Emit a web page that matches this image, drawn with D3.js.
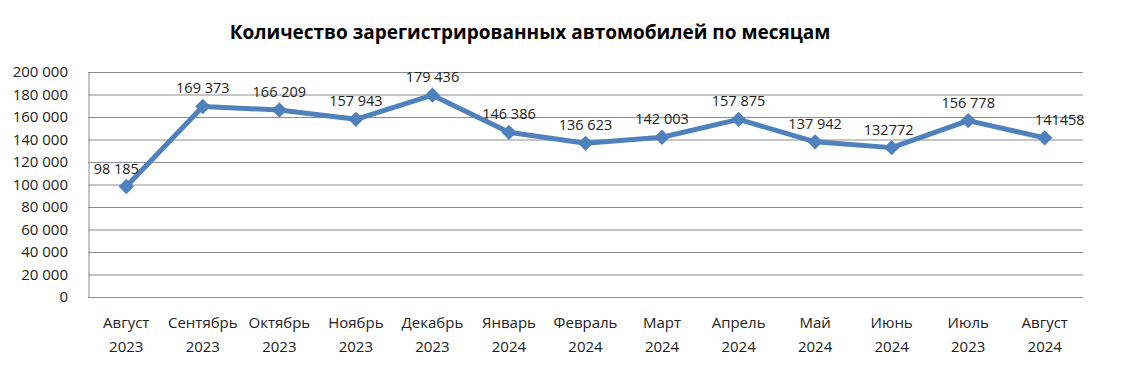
<!DOCTYPE html>
<html>
<head>
<meta charset="utf-8">
<script src="https://cdn.jsdelivr.net/npm/d3@7"></script>
<style>
  body { margin: 0; background: #fff; }
  text { font-family: "Open Sans", sans-serif; fill: #222; }
</style>
</head>
<body>
<div id="chart"></div>
<script>
const months = ["Август", "Сентябрь", "Октябрь", "Ноябрь", "Декабрь", "Январь", "Февраль",
  "Март", "Апрель", "Май", "Июнь", "Июль", "Август"];
const years = ["2023", "2023", "2023", "2023", "2023", "2024", "2024",
  "2024", "2024", "2024", "2024", "2023", "2024"];
const cars = [98185, 169373, 166209, 157943, 179436, 146386, 136623,
  142003, 157875, 137942, 132772, 156778, 141458];
const valueLabels = ["98 185", "169 373", "166 209", "157 943", "179 436", "146 386", "136 623",
  "142 003", "157 875", "137 942", "132772", "156 778", "141458"];
const yTicks = [0, 20000, 40000, 60000, 80000, 100000, 120000, 140000, 160000, 180000, 200000];

const svgWidth = 1121;
const svgHeight = 376;
const margin = { top: 72, right: 38, bottom: 79, left: 88 };
const width = svgWidth - margin.left - margin.right;
const height = svgHeight - margin.top - margin.bottom;

const svg = d3.select("#chart")
  .append("svg")
  .attr("width", svgWidth)
  .attr("height", svgHeight);

svg.append("text")
  .attr("x", 530)
  .attr("y", 39)
  .attr("text-anchor", "middle")
  .style("font-size", "19px")
  .style("font-weight", "bold")
  .style("fill", "#000")
  .text("Количество зарегистрированных автомобилей по месяцам");

const chartGroup = svg.append("g")
  .attr("transform", `translate(${margin.left}, ${margin.top})`);

const idx = d3.range(cars.length);
const xScale = d3.scaleBand()
  .domain(idx)
  .range([0, width]);

const yScale = d3.scaleLinear()
  .domain([0, 200000])
  .range([height, 0]);

const fmt = d => d3.format(",")(d).replace(/,/g, " ");

// gridlines
chartGroup.append("g")
  .selectAll("line")
  .data(yTicks)
  .enter()
  .append("line")
  .attr("x1", 0)
  .attr("x2", width)
  .attr("y1", d => yScale(d) + 0.5)
  .attr("y2", d => yScale(d) + 0.5)
  .attr("stroke", "#8c8c8c")
  .attr("stroke-width", 1);

// y axis
const leftAxis = d3.axisLeft(yScale)
  .tickValues(yTicks)
  .tickSize(0)
  .tickPadding(20)
  .tickFormat(fmt);

const yAxis = chartGroup.append("g")
  .call(leftAxis);
yAxis.select(".domain")
  .attr("stroke", "#8c8c8c")
  .attr("transform", "translate(0.5,0)");
yAxis.selectAll("text")
  .style("font-size", "15px")
  .attr("fill", "#222");

// x labels
const xLabels = chartGroup.append("g")
  .attr("transform", `translate(0, ${height})`)
  .selectAll("text")
  .data(idx)
  .enter()
  .append("text")
  .attr("x", d => xScale(d) + xScale.bandwidth() / 2)
  .attr("y", 31)
  .attr("text-anchor", "middle")
  .style("font-size", "15px");
xLabels.append("tspan")
  .attr("x", d => xScale(d) + xScale.bandwidth() / 2)
  .text(d => months[d]);
xLabels.append("tspan")
  .attr("x", d => xScale(d) + xScale.bandwidth() / 2)
  .attr("dy", 24)
  .text(d => years[d]);

// line
const line = d3.line()
  .x(d => xScale(d) + xScale.bandwidth() / 2)
  .y(d => yScale(cars[d]));

chartGroup.append("path")
  .datum(idx)
  .attr("d", line)
  .attr("fill", "none")
  .attr("stroke", "#4f81bd")
  .attr("stroke-width", 5)
  .attr("stroke-linejoin", "round");

chartGroup.selectAll(".marker")
  .data(idx)
  .enter()
  .append("path")
  .attr("class", "marker")
  .attr("d", d3.symbol().type(d3.symbolDiamond2).size(150))
  .attr("transform", d => `translate(${xScale(d) + xScale.bandwidth() / 2}, ${yScale(cars[d])})`)
  .attr("fill", "#4f81bd");

// value labels
const labelShift = [-10, 0, 0, 0, 0, 0, 0, 0, 0, 0, -3, 0, 15];
chartGroup.selectAll(".vlabel")
  .data(idx)
  .enter()
  .append("text")
  .attr("class", "vlabel")
  .attr("x", d => xScale(d) + xScale.bandwidth() / 2 + labelShift[d])
  .attr("y", d => yScale(cars[d]) - 13)
  .attr("text-anchor", "middle")
  .style("font-size", "14.5px")
  .text(d => valueLabels[d]);
</script>
</body>
</html>
